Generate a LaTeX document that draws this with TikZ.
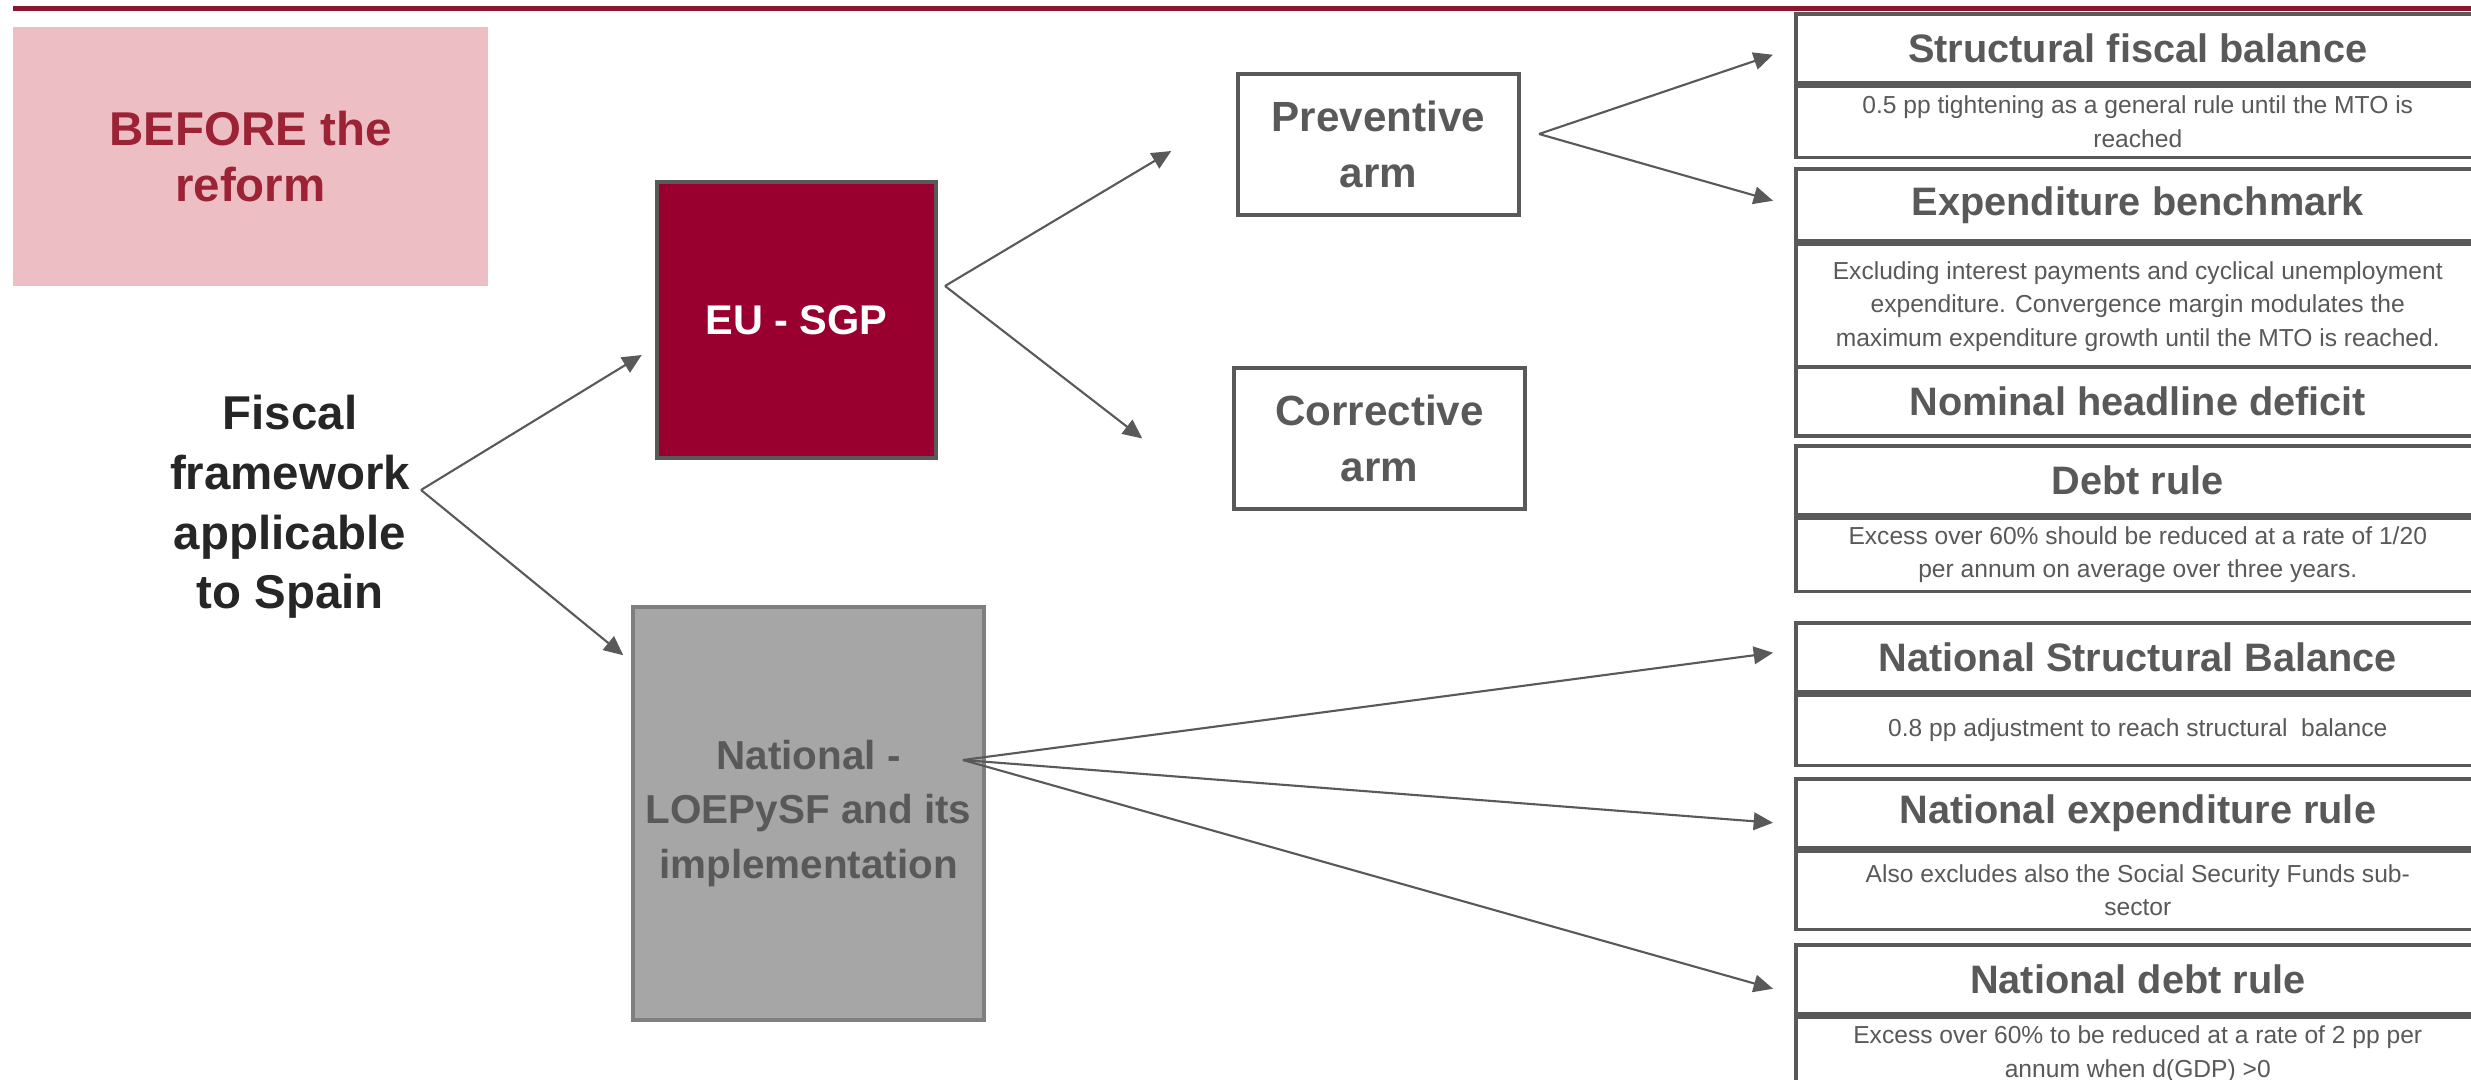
\documentclass[tikz,border=0pt]{standalone}
\usepackage{fontspec}
\setmainfont{Liberation Sans}
\usepackage{tikz}
\usetikzlibrary{arrows.meta, positioning, calc}
\definecolor{topred}{RGB}{140,22,48}
\definecolor{eured}{RGB}{153,0,48}
\definecolor{pinkfill}{RGB}{237,191,197}
\definecolor{beforered}{RGB}{155,35,53}
\definecolor{mygray}{RGB}{89,89,89}
\definecolor{natfill}{RGB}{166,166,166}
\definecolor{natdraw}{RGB}{127,127,127}
\definecolor{fiscaldark}{RGB}{38,38,38}
\tikzset{
  rulehead/.style={rectangle, draw=mygray, fill=white, line width=1pt, anchor=north west,
    minimum width=6.84cm, minimum height=0.69cm, inner sep=1pt, align=center,
    text=mygray, font=\fontsize{11.3}{13}\selectfont\bfseries},
  ruletext/.style={rectangle, draw=mygray, fill=white, line width=1pt,
    minimum width=6.84cm, inner sep=1pt, align=center,
    text=mygray, font=\fontsize{7}{9.5}\selectfont},
  armbox/.style={rectangle, draw=mygray, line width=1pt, minimum height=1.41cm,
    align=center, text=mygray, font=\fontsize{12}{16}\selectfont\bfseries},
  eubox/.style={rectangle, draw=mygray, fill=eured, line width=1.3pt,
    minimum width=2.79cm, minimum height=2.76cm, align=center,
    text=white, font=\fontsize{11.8}{14}\selectfont\bfseries},
  natbox/.style={rectangle, draw=natdraw, fill=natfill, line width=1pt,
    minimum width=3.51cm, minimum height=4.13cm, align=center,
    text=mygray, font=\fontsize{11.5}{15.6}\selectfont\bfseries},
  arrow/.style={-{Triangle[length=5.5pt,width=5pt]}, line width=0.6pt, color=mygray}
}

\begin{document}
\begin{tikzpicture}
  \useasboundingbox (0,0) rectangle (24.71,-10.80);
  \draw[topred, line width=0.05cm] (0.13,-0.085) -- (24.71,-0.085);

  % left side
  \node[rectangle, fill=pinkfill, minimum width=4.75cm, minimum height=2.59cm,
    align=center, text=beforered, font=\fontsize{13.5}{16}\selectfont\bfseries]
    (before) at (2.505,-1.565) {BEFORE the\\reform};
  \node[align=center, text=fiscaldark, font=\fontsize{13.5}{17}\selectfont\bfseries]
    (fiscal) at (2.90,-5.07) {Fiscal\\framework\\applicable\\to Spain};
  \node[eubox] (eu) at (7.965,-3.20) {EU - SGP};
  \node[natbox] (nat) at (8.085,-8.135) {National -\\LOEPySF and its\\implementation};
  \node[armbox, minimum width=2.81cm] (prev) at (13.785,-1.445) {Preventive\\arm};
  \node[armbox, minimum width=2.91cm] (corr) at (13.795,-4.385) {Corrective\\arm};

  % EU rules
  \node[rulehead] (struct) at (17.94,-0.12) {Structural fiscal balance};
  \node[ruletext, minimum height=0.71cm, below=0pt of struct] (structtxt)
    {0.5 pp tightening as a general rule until the MTO is\\reached};
  \node[rulehead, minimum height=0.72cm] (expb) at (17.94,-1.67) {Expenditure benchmark};
  \node[ruletext, minimum height=1.24cm, below=0pt of expb] (expbtxt)
    {Excluding interest payments and cyclical unemployment\\expenditure. Convergence margin modulates the\\maximum expenditure growth until the MTO is reached.};
  \node[rulehead] (nominal) at (17.94,-3.65) {Nominal headline deficit};
  \node[rulehead] (debt) at (17.94,-4.44) {Debt rule};
  \node[ruletext, minimum height=0.73cm, below=0pt of debt] (debttxt)
    {Excess over 60\% should be reduced at a rate of 1/20\\per annum on average over three years.};

  % national rules
  \node[rulehead] (nsb) at (17.94,-6.21) {National Structural Balance};
  \node[ruletext, minimum height=0.70cm, below=0pt of nsb] (nsbtxt)
    {0.8 pp adjustment to reach structural\ \ balance};
  \node[rulehead] (nexp) at (17.94,-7.77) {National expenditure rule};
  \node[ruletext, minimum height=0.78cm, below=0pt of nexp] (nexptxt)
    {Also excludes also the Social Security Funds sub-\\sector};
  \node[rulehead] (ndebt) at (17.94,-9.43) {National debt rule};
  \node[ruletext, minimum height=0.74cm, below=0pt of ndebt] (ndebttxt)
    {Excess over 60\% to be reduced at a rate of 2 pp per\\annum when d(GDP) >0};

  % fork points
  \coordinate (fiscalfork) at (4.21,-4.90);
  \coordinate (eufork) at (9.45,-2.86);
  \coordinate (prevfork) at (15.39,-1.34);
  \coordinate (natfork) at (9.63,-7.60);

  \draw[arrow] (fiscalfork) -- ($(eu.west)+(-0.13,-0.35)$);
  \draw[arrow] (fiscalfork) -- ($(nat.north west)+(-0.08,-0.50)$);
  \draw[arrow] (eufork) -- ($(prev.west)+(-0.65,-0.065)$);
  \draw[arrow] (eufork) -- ($(corr.west)+(-0.90,0)$);
  \draw[arrow] (prevfork) -- ($(struct.west)+(-0.21,-0.065)$);
  \draw[arrow] (prevfork) -- ($(expb.west)+(-0.21,0.04)$);
  \draw[arrow] (natfork) -- ($(nsb.west)+(-0.21,0.045)$);
  \draw[arrow] (natfork) -- ($(nexp.west)+(-0.21,-0.095)$);
  \draw[arrow] (natfork) -- ($(ndebt.west)+(-0.21,-0.095)$);
\end{tikzpicture}
\end{document}
